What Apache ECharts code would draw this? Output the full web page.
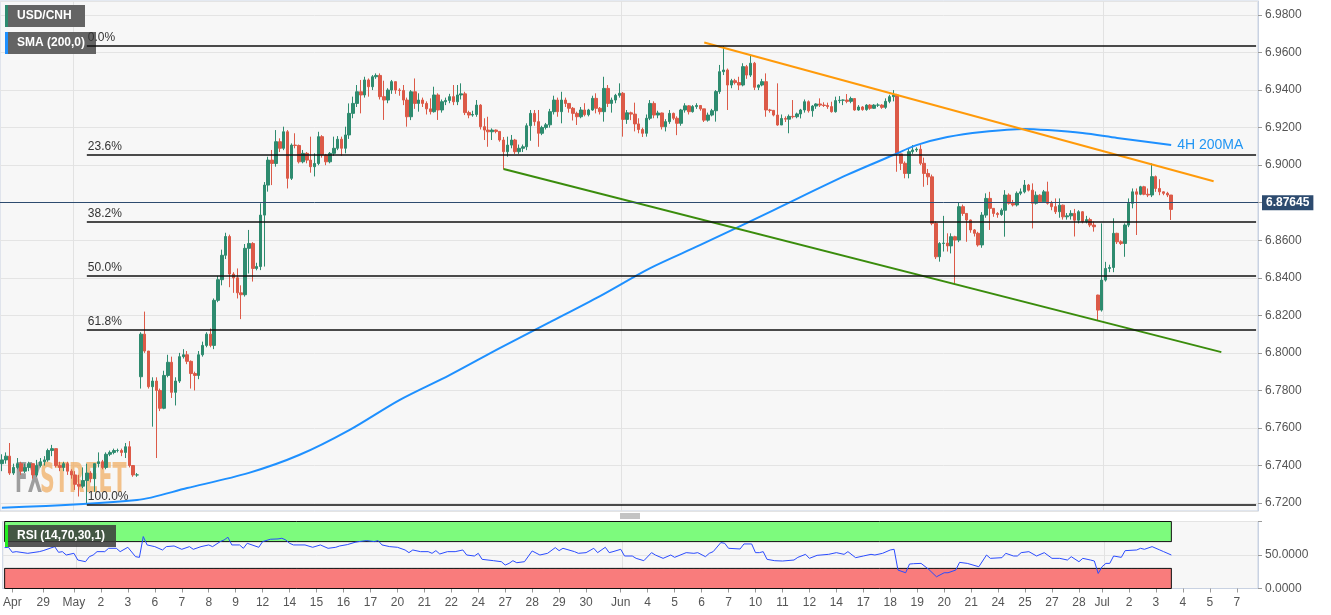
<!DOCTYPE html>
<html><head><meta charset="utf-8">
<script src="https://cdn.jsdelivr.net/npm/echarts@6/dist/echarts.min.js"></script>
<style>html,body{margin:0;padding:0;background:#fff}#c{width:1331px;height:615px}</style>
</head><body><div id="c"></div>
<script>
// ---------- x axis ----------
const slotCount = 326;
const tickIdx = [2,10,18,25,32,39,46,53,60,67,74,81,88,95,102,109,116,123,130,137,144,151,160,167,174,181,188,195,202,209,216,223,230,237,244,251,258,265,272,279,285,292,299,306,313,320];
const tickLabels = ['Apr','29','May','2','3','6','7','8','9','12','14','15','16','17','20','21','22','24','27','28','29','30','Jun','4','5','6','7','10','11','12','14','17','18','19','20','21','24','25','27','28','Jul','2','3','4','5','7'];
const monthIdx = [19,161,286];

// ---------- 4H candles: [close, low, high]; open = previous close unless listed in gapOpens ----------
const candlesA = [[6.743,6.737,6.746],[6.745,6.741,6.747],[6.736,6.735,6.752],[6.739,6.735,6.741],[6.741,6.738,6.744],
[6.737,6.735,6.742],[6.739,6.736,6.741],[6.741,6.737,6.742],[6.735,6.733,6.741],[6.740,6.734,6.743],
[6.742,6.739,6.744],[6.743,6.740,6.745],[6.748,6.742,6.749],[6.749,6.745,6.751],[6.740,6.739,6.749],
[6.739,6.737,6.742],[6.741,6.737,6.742],[6.737,6.735,6.742],[6.735,6.733,6.738],[6.730,6.727,6.737],
[6.729,6.7235,6.735],[6.732,6.728,6.739],[6.736,6.7195,6.741],[6.733,6.731,6.737],[6.741,6.726,6.741],
[6.742,6.739,6.747],[6.739,6.738,6.743],[6.746,6.738,6.747],[6.747,6.745,6.748],[6.748,6.746,6.749],
[6.748,6.747,6.749],[6.747,6.745,6.749],[6.750,6.744,6.752],[6.740,6.739,6.753],[6.735,6.734,6.740],
[6.735,6.734,6.736]];
const candlesB = [[6.810,6.781,6.811],[6.801,6.800,6.822],[6.782,6.781,6.801],[6.785,6.7607,6.787],[6.780,6.744,6.787],
[6.7705,6.769,6.781],[6.788,6.770,6.7905],[6.795,6.787,6.799],[6.779,6.776,6.798],[6.785,6.772,6.787],
[6.798,6.784,6.800],[6.799,6.797,6.802],[6.7955,6.794,6.801],[6.789,6.781,6.796],[6.788,6.780,6.790],
[6.799,6.786,6.801],[6.804,6.798,6.806],[6.810,6.803,6.811],[6.804,6.803,6.813],[6.828,6.802,6.829],
[6.839,6.827,6.841],[6.852,6.836,6.855],[6.862,6.850,6.864],[6.842,6.835,6.863],[6.840,6.832,6.843],
[6.832,6.829,6.845],[6.831,6.818,6.836],[6.8557,6.830,6.858],[6.8583,6.8423,6.8655],[6.845,6.838,6.859],
[6.846,6.844,6.848],[6.8734,6.8441,6.8797],[6.8894,6.846,6.891],[6.9027,6.8859,6.9045],[6.9009,6.8894,6.9081]];
const candlesC = [[6.9125,6.8992,6.9187],[6.9090,6.907,6.9143],[6.9178,6.908,6.9205],[6.8930,6.8876,6.9187],[6.9107,6.8921,6.9116],
[6.9105,6.909,6.9170],[6.9018,6.9009,6.9110],[6.9063,6.901,6.9081],[6.9027,6.901,6.907],[6.8992,6.896,6.9152],
[6.9009,6.894,6.9063],[6.9152,6.900,6.9178],[6.9054,6.904,6.9160],[6.9018,6.900,6.906],[6.9063,6.901,6.907],
[6.9090,6.905,6.9152],[6.9138,6.908,6.9155],[6.9090,6.905,6.9152],[6.9161,6.9063,6.9205],[6.9276,6.914,6.9329],
[6.9329,6.925,6.9365],[6.9391,6.931,6.9427],[6.9374,6.9276,6.9454],[6.9454,6.936,6.9471],[6.9418,6.9365,6.9462],
[6.9471,6.940,6.9480],[6.9478,6.946,6.9489],[6.9365,6.935,6.9489],[6.9347,6.9241,6.9450],[6.9400,6.933,6.941],
[6.9445,6.938,6.9454],[6.9400,6.938,6.9445],[6.9398,6.937,6.941],[6.9347,6.9320,6.9427],[6.9258,6.9205,6.9360]];
const candlesD = [[6.9391,6.924,6.9400],[6.9329,6.930,6.9462],[6.9347,6.9285,6.9383],[6.9329,6.931,6.936],[6.9300,6.927,6.934],
[6.9285,6.927,6.9356],[6.9374,6.928,6.9418],[6.9294,6.9241,6.9383],[6.9338,6.928,6.935],[6.9345,6.932,6.936],
[6.9365,6.933,6.938],[6.9338,6.932,6.9427],[6.9374,6.932,6.9427],[6.9380,6.935,6.9436],[6.9280,6.9267,6.9391],
[6.9267,6.925,6.929],[6.9270,6.9258,6.929],[6.9320,6.9258,6.9347],[6.9205,6.919,6.9325],[6.9187,6.9134,6.9250],
[6.9178,6.9098,6.9258],[6.9187,6.9134,6.9196],[6.9180,6.917,6.919],[6.9134,6.9125,6.9178],[6.9072,6.8978,6.9150],
[6.9107,6.9045,6.9152],[6.9134,6.9090,6.9161],[6.9072,6.906,6.914],[6.9090,6.906,6.911],[6.9098,6.907,6.911],
[6.9210,6.908,6.9223]];
const candlesE = [[6.9276,6.913,6.9294],[6.9232,6.921,6.9294],[6.9170,6.9098,6.9294],[6.9201,6.916,6.921],[6.9215,6.919,6.9225],
[6.9285,6.920,6.930],[6.9347,6.927,6.937],[6.9285,6.9258,6.936],[6.9347,6.9223,6.9391],[6.9329,6.931,6.936],
[6.9303,6.928,6.933],[6.9276,6.9238,6.9310],[6.9258,6.9214,6.9285],[6.9294,6.925,6.9310],[6.9269,6.926,6.933],
[6.9294,6.926,6.930],[6.9356,6.929,6.937],[6.9303,6.9276,6.9383],[6.9285,6.927,6.931],[6.9409,6.9232,6.9471],
[6.9329,6.931,6.9427],[6.9347,6.928,6.936],[6.9372,6.933,6.938],[6.9383,6.936,6.9436],[6.9244,6.9152,6.9390],
[6.9279,6.922,6.9294],[6.9272,6.9240,6.9285],[6.9220,6.918,6.9333],[6.9190,6.917,6.9250],[6.9170,6.915,6.920],
[6.9250,6.9152,6.927],[6.9329,6.924,6.9347],[6.9267,6.9250,6.9340],[6.9278,6.925,6.929],[6.9205,6.919,6.9280],
[6.9232,6.918,6.9245],[6.9276,6.922,6.9294],[6.9250,6.924,6.9280],[6.9223,6.9160,6.9260],[6.9294,6.921,6.930],
[6.9316,6.928,6.9330],[6.9285,6.9270,6.932],[6.9312,6.928,6.932],[6.9318,6.930,6.933]];
const candlesF = [[6.9300,6.929,6.9320],[6.9240,6.923,6.930],[6.9267,6.9232,6.928],[6.9290,6.926,6.930],[6.9392,6.9232,6.9400],
[6.9498,6.938,6.9534],[6.9507,6.948,6.9635],[6.9427,6.9294,6.9515],[6.9450,6.941,6.946],[6.9440,6.943,6.946],
[6.9427,6.940,6.9471],[6.9525,6.942,6.9543],[6.9480,6.946,6.9534],[6.9543,6.947,6.9585],[6.9415,6.940,6.9550],
[6.9427,6.940,6.943],[6.9445,6.942,6.946],[6.9294,6.9258,6.9489],[6.9292,6.928,6.930],[6.9267,6.926,6.9294],
[6.9214,6.921,6.9436],[6.9249,6.9223,6.927],[6.9245,6.923,6.926],[6.9260,6.9170,6.927],[6.9258,6.9249,6.9347],
[6.9273,6.925,6.928],[6.9294,6.9249,6.930],[6.9338,6.928,6.935],[6.9290,6.928,6.9345],[6.9315,6.9258,6.932],
[6.9326,6.930,6.933],[6.9320,6.931,6.9356],[6.9318,6.931,6.9335],[6.9312,6.930,6.9333],[6.9285,6.928,6.9338],
[6.9344,6.928,6.9365],[6.9346,6.933,6.9368],[6.9347,6.932,6.935],[6.9340,6.933,6.9379],[6.9355,6.933,6.9365],
[6.9294,6.929,6.9355],[6.9310,6.929,6.932],[6.9296,6.929,6.9315],[6.9320,6.929,6.9325],[6.9303,6.9295,6.9325],
[6.9320,6.930,6.9325],[6.9320,6.931,6.933],[6.9308,6.930,6.9325],[6.9340,6.930,6.9356],[6.9365,6.933,6.9375]];
const candlesG = [[6.9374,6.934,6.9400],[6.9060,6.8965,6.9380],[6.9010,6.8974,6.906],[6.8956,6.893,6.902],[6.9072,6.893,6.909],
[6.9081,6.906,6.9107],[6.9085,6.907,6.9095],[6.9010,6.900,6.9107],[6.8956,6.8885,6.904],[6.8938,6.8894,6.898],
[6.8690,6.868,6.895],[6.8512,6.850,6.870],[6.8583,6.8486,6.859],[6.8585,6.854,6.873],[6.8570,6.854,6.8637],
[6.8619,6.853,6.8637],[6.8601,6.8370,6.8624],[6.8779,6.859,6.880],[6.8743,6.873,6.879],[6.8708,6.8592,6.8745],
[6.8655,6.864,6.871],[6.8637,6.862,6.866],[6.8575,6.8566,6.8645],[6.8734,6.856,6.875],[6.8823,6.872,6.8850],
[6.8770,6.8655,6.8858],[6.8743,6.8725,6.877],[6.8737,6.872,6.875],[6.8760,6.873,6.877],[6.8841,6.8619,6.8867],
[6.8797,6.879,6.885],[6.8788,6.878,6.8815],[6.8850,6.878,6.886],[6.8858,6.884,6.8876],[6.8894,6.885,6.8921],
[6.8867,6.886,6.890],[6.8797,6.8663,6.8903],[6.8840,6.879,6.8860],[6.8805,6.880,6.8845],[6.8858,6.880,6.8868],
[6.8797,6.879,6.8912],[6.8779,6.876,6.881],[6.8752,6.874,6.8823],[6.8787,6.872,6.8823],[6.8725,6.871,6.879],
[6.8730,6.871,6.8745],[6.8743,6.871,6.876],[6.8707,6.862,6.8767],[6.8752,6.869,6.876],[6.8700,6.869,6.8755],
[6.8710,6.869,6.8730],[6.8681,6.867,6.872],[6.8672,6.8646,6.870]];
const candlesH = [[6.8228,6.8175,6.831],[6.8388,6.822,6.869],[6.8450,6.838,6.8485],[6.8455,6.843,6.847],[6.8637,6.8430,6.8717],
[6.8592,6.8580,6.8640],[6.8583,6.8575,6.860],[6.8681,6.8512,6.869],[6.8797,6.867,6.8823],[6.8858,6.877,6.8876],
[6.8845,6.8628,6.8876],[6.8885,6.884,6.8890],[6.8845,6.884,6.889],[6.8841,6.883,6.8876],[6.8939,6.883,6.9010],
[6.8876,6.8858,6.8945],[6.8858,6.884,6.8925],[6.8850,6.884,6.886],[6.8841,6.883,6.8858],[6.87645,6.8708,6.8830]];
const gapOpens = {0: 6.741, 36: 6.7873, 284: 6.8308};

// ---------- 200-period SMA, read at sample candles: [candle index, value] ----------
const maPoints = [[0,6.7175],[35,6.7216],[48,6.7280],[64,6.7361],[77,6.7456],[90,6.7589],[103,6.7749],[116,6.7882],
[129,6.8026],[142,6.8164],[155,6.8303],[168,6.8452],[181,6.8575],[200,6.8761],[219,6.8948],[231,6.9054],[237,6.9107],
[245,6.9150],[254,6.9177],[265,6.9193],[271,6.9187],[280,6.9171],[289,6.9145],[303,6.9107]];

// ---------- RSI(14): [candle index, value] ----------
const rsiPoints = [[0,61],[1,61.5],[2,54],[3,55],[6,52.5],[9,55],[10,56.5],[13,62.5],[14,54],[15,55],[16,50],[18,52.5],[19,42.5],
[21,40],[22,47.5],[23,50],[24,55],[26,55],[27,60],[29,60],[30,55],[32,61.5],[34,47.5],[35,46.5],[36,77.5],[37,65],[39,62.5],
[41,57.5],[42,62.5],[44,63.5],[46,58.5],[48,62.5],[49,58.5],[51,62.5],[53,65],[54,62.5],[56,70],[57,72.5],[58,76.5],[59,65],
[61,65],[62,60],[63,67.5],[66,61.5],[67,70],[69,73.5],[71,74],[72,75],[73,72.5],[74,67.5],[75,65],[78,65],[80,61.5],[82,65],
[84,60],[86,61.5],[87,63.5],[89,65.5],[91,69],[92,70],[94,71.5],[96,70],[97,71.5],[98,65],[100,62.5],[102,61.5],[104,57.5],
[105,53.5],[106,57.5],[108,55],[110,55],[111,52.5],[112,56.5],[113,51.5],[115,55],[117,55],[119,57.5],[120,50],[122,48.5],
[123,52.5],[124,43.5],[127,41.5],[129,40],[130,35],[131,37.5],[132,41.5],[133,38.5],[135,40],[137,56],[139,50],[141,52.5],
[143,61],[144,56.5],[145,60],[148,55],[149,52.5],[151,53.5],[153,60],[154,53.5],[156,61.5],[157,53.5],[158,55],[160,58.5],
[161,48.5],[163,48.5],[164,45],[166,41.5],[168,53.5],[169,50],[171,45],[173,50],[174,46.5],[177,53.5],[179,52.5],[180,53.5],
[182,47.5],[183,52.5],[184,55],[186,68.5],[187,67.5],[188,60],[191,59],[192,66.5],[194,66.5],[195,53.5],[196,53.5],[197,55],
[198,43.5],[200,41.5],[202,41],[205,42.5],[206,46.5],[208,51],[209,45],[211,49.5],[212,50],[214,51],[216,53.5],[218,51],
[219,55],[221,46],[223,48.5],[225,51],[226,50],[228,52.5],[230,57.5],[231,58.5],[232,27.5],[234,23.5],[235,36.5],[236,37],
[238,37.5],[240,28.5],[242,17.5],[244,23.5],[245,23.5],[247,27.5],[248,39],[250,37.5],[253,32.5],[255,50],[256,45],[259,46],
[260,52.5],[262,48.5],[263,48.5],[264,53.5],[266,55],[268,48.5],[270,53.5],[272,45],[274,45],[276,42.5],[277,47.5],[279,40],
[280,45],[282,42.5],[283,41],[284,22.5],[285,32.5],[286,37.5],[287,37.5],[288,48.5],[290,46.5],[291,56.5],[294,57.5],
[295,60],[296,58.5],[298,62.5],[300,57.5],[301,55],[303,50]];

// ---------- drawing tools ----------
const fibHigh = 6.9635, fibLow = 6.7189, fibStartIdx = 22, fibEndIdx = 325;
const fibRatios = [0, 0.236, 0.382, 0.5, 0.618, 1];
const fibLabels = ['0.0%','23.6%','38.2%','50.0%','61.8%','100.0%'];
const resistLine = [[182,6.9654],[314,6.8914]];
const supportLine = [[130,6.8980],[316,6.8004]];
const lastPrice = 6.87645;
const rsiUpper = 70, rsiLower = 30;

// ---------- build ----------
const tickSet = new Set(tickIdx), monthSet = new Set(monthIdx);
const cats = Array.from({length: slotCount}, () => '');
tickIdx.forEach((k, j) => { cats[k] = tickLabels[j]; });
const raw = [].concat(candlesA, candlesB, candlesC, candlesD, candlesE, candlesF, candlesG, candlesH);
const ohlc = [];
raw.forEach((d, i) => {
  const o = (i in gapOpens) ? gapOpens[i] : raw[i - 1][0];
  const c = d[0];
  ohlc.push([o, c, Math.min(d[1], o, c), Math.max(d[2], o, c)]);
});
const lastIdx = raw.length - 1;

const fibLines = fibRatios.map((r, j) => {
  const lv = fibHigh - r * (fibHigh - fibLow);
  return [{coord: [fibStartIdx, lv], lineStyle: {color: '#111', width: 1.5, type: 'solid'},
           label: {show: true, position: 'insideStartTop', formatter: fibLabels[j], color: '#333', fontSize: 12,
                   fontFamily: 'Liberation Sans', distance: [1, 2]}},
          {coord: [fibEndIdx, lv]}];
});

const FONT = 'Liberation Sans, Arial, sans-serif';
const chart = echarts.init(document.getElementById('c'), null, {renderer: 'canvas'});
chart.setOption({
  animation: false,
  backgroundColor: '#ffffff',
  grid: [
    {left: 0, right: 73, top: 1, height: 510, show: true, backgroundColor: '#f7f7f7', borderColor: '#c9d2e2', borderWidth: 1},
    {left: 0, right: 73, top: 521.5, height: 67, show: true, backgroundColor: '#f7f7f7', borderColor: '#c9d2e2', borderWidth: 1}
  ],
  xAxis: [
    {type: 'category', gridIndex: 0, data: cats, boundaryGap: true,
     axisLine: {show: false}, axisTick: {show: false}, axisLabel: {show: false},
     splitLine: {show: true, interval: (i) => monthSet.has(i), lineStyle: {color: '#e2e2e2', width: 1}}},
    {type: 'category', gridIndex: 1, data: cats, boundaryGap: true,
     axisLine: {show: true, lineStyle: {color: '#c9d2e2'}},
     axisTick: {show: true, alignWithLabel: true, interval: (i) => tickSet.has(i), length: 4, lineStyle: {color: '#9a9a9a'}},
     axisLabel: {show: true, interval: (i) => tickSet.has(i), color: '#555', fontSize: 12, fontFamily: FONT, margin: 8, hideOverlap: false},
     splitLine: {show: true, interval: (i) => monthSet.has(i), lineStyle: {color: '#e2e2e2', width: 1}}}
  ],
  yAxis: [
    {type: 'value', gridIndex: 0, position: 'right', min: 6.71578, max: 6.98746, splitNumber: 14,
     axisLine: {show: true, lineStyle: {color: '#c9d2e2'}},
     axisTick: {show: true, length: 4, lineStyle: {color: '#9a9a9a'}},
     axisLabel: {showMinLabel: false, showMaxLabel: false, formatter: (v) => v.toFixed(4), color: '#555', fontSize: 12, fontFamily: FONT, margin: 7},
     splitLine: {show: true, lineStyle: {color: '#e4e4e4'}}},
    {type: 'value', gridIndex: 1, position: 'right', min: 0, max: 100, interval: 50,
     axisLine: {show: true, lineStyle: {color: '#c9d2e2'}},
     axisTick: {show: true, length: 4, lineStyle: {color: '#9a9a9a'}},
     axisLabel: {formatter: (v) => v === 100 ? '' : v.toFixed(4), color: '#555', fontSize: 12, fontFamily: FONT, margin: 7},
     splitLine: {show: true, lineStyle: {color: '#e4e4e4'}}}
  ],
  series: [
    {type: 'candlestick', name: 'USD/CNH', xAxisIndex: 0, yAxisIndex: 0, data: ohlc, barWidth: 3, z: 3,
     itemStyle: {color: '#2e8b6f', color0: '#dc5a48', borderColor: '#2e8b6f', borderColor0: '#dc5a48', borderWidth: 1},
     markLine: {symbol: ['none', 'none'], silent: true, animation: false, z: 10,
       data: [
         {yAxis: lastPrice, lineStyle: {color: '#2d4b6f', width: 1, type: 'solid'},
          label: {show: true, position: 'end', formatter: lastPrice.toFixed(5), color: '#fff', backgroundColor: '#2d4b6f',
                  fontWeight: 'bold', fontSize: 12, fontFamily: FONT, padding: [2, 4, 1, 4], distance: 4}}
       ].concat(fibLines)}},
    {type: 'line', name: 'SMA', xAxisIndex: 0, yAxisIndex: 0, data: maPoints, smooth: 0.3, showSymbol: false, z: 4,
     lineStyle: {color: '#1e90ff', width: 2},
     endLabel: {show: true, formatter: '4H 200MA', color: '#2196f3', fontSize: 14, fontFamily: FONT, distance: 6}},
    {type: 'line', name: 'resistance', xAxisIndex: 0, yAxisIndex: 0, data: resistLine, showSymbol: false, z: 5,
     lineStyle: {color: '#ff9a0a', width: 2}},
    {type: 'line', name: 'support', xAxisIndex: 0, yAxisIndex: 0, data: supportLine, showSymbol: false, z: 5,
     lineStyle: {color: '#3a8c0c', width: 2}},
    {type: 'line', name: 'RSI', xAxisIndex: 1, yAxisIndex: 1, data: rsiPoints, showSymbol: false, z: 5,
     lineStyle: {color: '#2a4bff', width: 1},
     markArea: {silent: true, data: [
       [{coord: [0, rsiUpper], itemStyle: {color: '#7dfb7d', borderColor: '#111', borderWidth: 1}}, {coord: [lastIdx, 100]}],
       [{coord: [0, 0], itemStyle: {color: '#f97c7c', borderColor: '#111', borderWidth: 1}}, {coord: [lastIdx, rsiLower]}]
     ]},
     markLine: {silent: true, symbol: ['none', 'none'], label: {show: false},
       lineStyle: {color: '#222', type: 'dashed', width: 1},
       data: [[{coord: [0, rsiUpper]}, {coord: [lastIdx, rsiUpper]}], [{coord: [0, rsiLower]}, {coord: [lastIdx, rsiLower]}]]}}
  ],
  graphic: [
    {type: 'text', x: 15, y: 462, scaleX: 0.52, z: 1, silent: true,
     style: {text: 'FX', fill: 'rgba(120,120,120,0.7)', font: 'bold 40px "DejaVu Sans Condensed", "DejaVu Sans", sans-serif'}},
    {type: 'text', x: 40, y: 462, scaleX: 0.57, z: 1, silent: true,
     style: {text: 'STREET', fill: 'rgba(240,165,80,0.65)', font: 'bold 40px "DejaVu Sans Condensed", "DejaVu Sans", sans-serif'}},
    {type: 'rect', shape: {x: 5, y: 5, width: 80, height: 22}, style: {fill: '#646464'}, z: 4},
    {type: 'rect', shape: {x: 5, y: 5, width: 3, height: 22}, style: {fill: '#2e8b6f'}, z: 4},
    {type: 'text', x: 17, y: 16, z: 4, style: {text: 'USD/CNH', fill: '#fff', font: 'bold 12px "Liberation Sans", Arial', verticalAlign: 'middle'}},
    {type: 'rect', shape: {x: 5, y: 32, width: 91, height: 22}, style: {fill: '#646464'}, z: 4},
    {type: 'rect', shape: {x: 5, y: 32, width: 3, height: 22}, style: {fill: '#1e90ff'}, z: 4},
    {type: 'text', x: 17, y: 43, z: 4, style: {text: 'SMA (200,0)', fill: '#fff', font: 'bold 12px "Liberation Sans", Arial', verticalAlign: 'middle'}},
    {type: 'rect', shape: {x: 5, y: 525, width: 111, height: 22}, style: {fill: 'rgba(58,58,58,0.85)'}, z: 20},
    {type: 'rect', shape: {x: 5, y: 525, width: 3, height: 22}, style: {fill: '#22ee22'}, z: 21},
    {type: 'text', x: 17, y: 536, z: 21, style: {text: 'RSI (14,70,30,1)', fill: '#fff', font: 'bold 12px "Liberation Sans", Arial', verticalAlign: 'middle'}},
    {type: 'line', shape: {x1: 620, y1: 514, x2: 640, y2: 514}, style: {stroke: '#888', lineWidth: 1}},
    {type: 'line', shape: {x1: 620, y1: 516, x2: 640, y2: 516}, style: {stroke: '#888', lineWidth: 1}},
    {type: 'line', shape: {x1: 620, y1: 518, x2: 640, y2: 518}, style: {stroke: '#888', lineWidth: 1}}
  ]
});
</script>
</body></html>
